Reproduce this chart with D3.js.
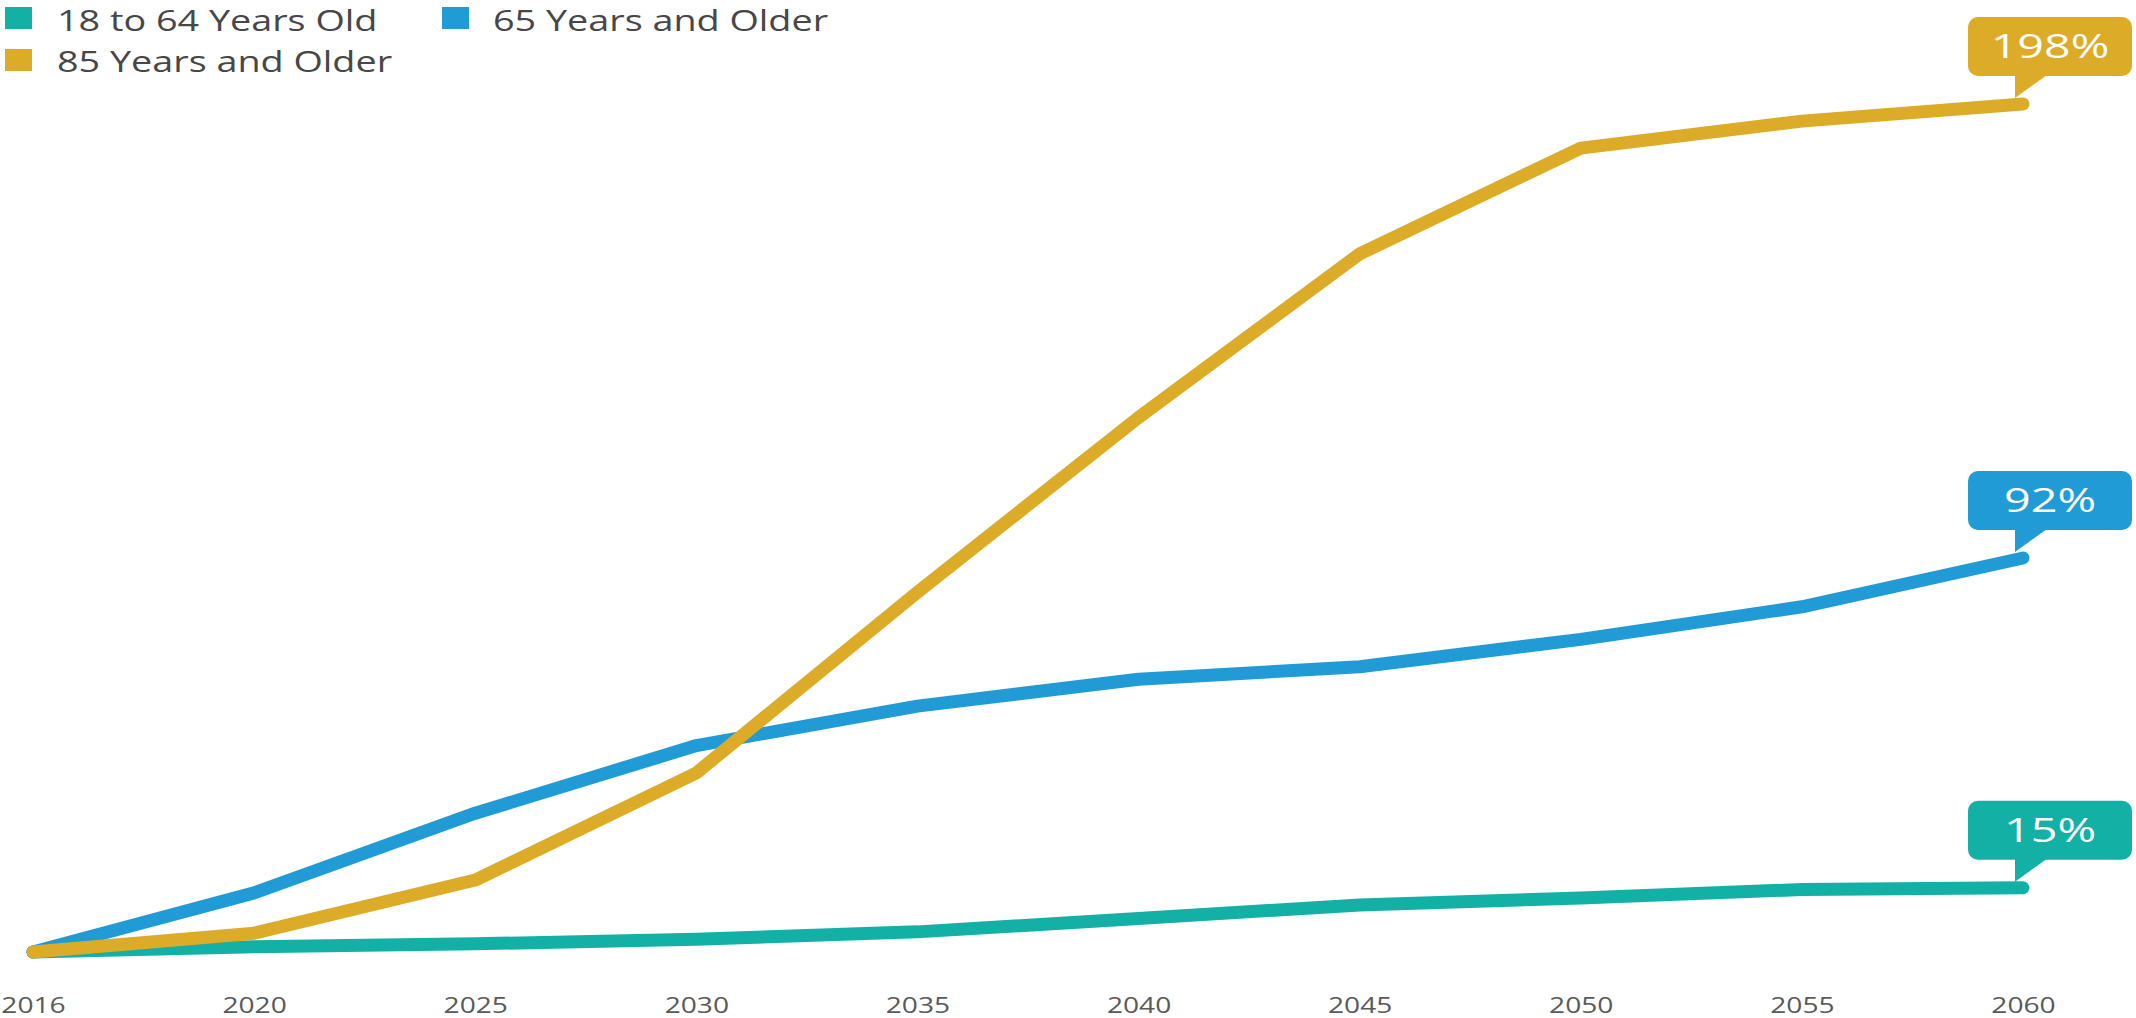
<!DOCTYPE html>
<html>
<head>
<meta charset="utf-8">
<script src="https://cdn.jsdelivr.net/npm/d3@7"></script>
<style>
  html, body { margin: 0; padding: 0; background: #ffffff; }
  svg { display: block; }
  text { font-family: "Open Sans", "Lato", sans-serif; }
</style>
</head>
<body>
<svg id="chart" width="2136" height="1018"></svg>
<script>
// Projected population growth since 2016, by age group (percent)
const years = ["2016", "2020", "2025", "2030", "2035", "2040", "2045", "2050", "2055", "2060"];
const seriesNames = ["18 to 64 Years Old", "65 Years and Older", "85 Years and Older"];
const adults18to64 = [0, 1.2, 1.9, 3.0, 4.7, 7.8, 11.0, 12.6, 14.6, 15];
const seniors65plus = [0, 13.8, 32.4, 48.2, 57.4, 63.7, 66.6, 73.0, 80.6, 92];
const seniors85plus = [0, 4.4, 16.8, 41.8, 84.0, 124.8, 163.0, 187.7, 194.0, 198];
const seriesColors = ["#13b0a6", "#219bd6", "#dcab27"];
const endLabels = ["15%", "92%", "198%"];

const series = [adults18to64, seniors65plus, seniors85plus].map((values, i) => ({
  name: seriesNames[i],
  color: seriesColors[i],
  label: endLabels[i],
  values: values
}));

const svg = d3.select("#chart");
const STRETCH = 1.325; // wide lettering used throughout the graphic

const x = d3.scalePoint().domain(years).range([33, 2023]);
const y = d3.scaleLinear().domain([0, 198]).range([952, 104]);

// Horizontal axis: year labels only, no line or ticks
const xAxis = d3.axisBottom(x).tickSize(0).tickPadding(0);
const axisG = svg.append("g").attr("transform", "translate(0,1013)").call(xAxis);
axisG.select(".domain").remove();
axisG.selectAll(".tick text")
  .attr("y", 0)
  .attr("dy", 0)
  .attr("font-size", 21)
  .attr("fill", "#5a5a5a")
  .attr("text-anchor", "middle")
  .attr("font-family", "Open Sans, Lato, sans-serif")
  .attr("transform", "scale(1.34,1)");

// Lines
const line = d3.line()
  .x((d, i) => x(years[i]))
  .y(d => y(d));

svg.append("g").selectAll("path")
  .data(series)
  .join("path")
  .attr("d", d => line(d.values))
  .attr("fill", "none")
  .attr("stroke", d => d.color)
  .attr("stroke-width", 13)
  .attr("stroke-linecap", "round")
  .attr("stroke-linejoin", "round");

// Callouts at the end of each line
const callouts = svg.append("g").selectAll("g")
  .data(series)
  .join("g")
  .attr("transform", d => {
    const last = d.values.length - 1;
    return `translate(${x(years[last])},${y(d.values[last])})`;
  });

const boxW = 164, boxH = 59, gap = 28;
callouts.append("rect")
  .attr("x", -55)
  .attr("y", -gap - boxH)
  .attr("width", boxW)
  .attr("height", boxH)
  .attr("rx", 10)
  .attr("fill", d => d.color);

callouts.append("path")
  .attr("d", `M-8,${-gap - 1} L-8,${-6} L24,${-gap - 1} Z`)
  .attr("fill", d => d.color);

callouts.append("text")
  .attr("transform", `translate(${-55 + boxW / 2},${-gap - boxH / 2 + 11.5}) scale(1.46,1)`)
  .attr("text-anchor", "middle")
  .attr("font-size", 32)
  .attr("fill", "#ffffff")
  .text(d => d.label);

// Legend
const legendPos = [
  { sx: 5, sy: 7, tx: 57, ty: 31 },
  { sx: 442, sy: 7, tx: 493, ty: 31 },
  { sx: 5, sy: 49, tx: 57, ty: 72 }
];
const legend = svg.append("g").selectAll("g")
  .data(series)
  .join("g");
legend.append("rect")
  .attr("x", (d, i) => legendPos[i].sx)
  .attr("y", (d, i) => legendPos[i].sy)
  .attr("width", 27)
  .attr("height", 22)
  .attr("fill", d => d.color);
legend.append("text")
  .attr("transform", (d, i) => `translate(${legendPos[i].tx},${legendPos[i].ty}) scale(${STRETCH},1)`)
  .attr("font-size", 28.5)
  .attr("fill", "#474747")
  .text(d => d.name);
</script>
</body>
</html>
